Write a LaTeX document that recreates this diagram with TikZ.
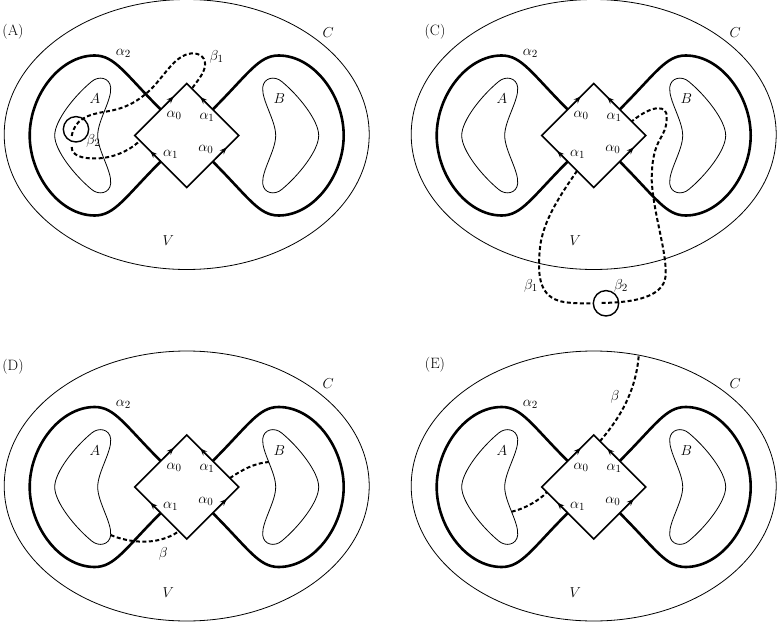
\documentclass[tikz,border=0pt]{standalone}
\usetikzlibrary{shapes.geometric,calc,arrows.meta}
\tikzset{
  every node/.style={font=\fontsize{15}{18}\selectfont, inner sep=0pt},
  ellipsenode/.style={draw, ellipse, minimum width=365pt, minimum height=270pt, inner sep=0pt, outer sep=0pt, line width=0.8pt},
  diam/.style={draw, diamond, minimum width=104pt, minimum height=104pt, inner sep=0pt, outer sep=0pt, line width=1.6pt},
  alphacurve/.style={line width=2.6pt},
  region/.style={line width=0.8pt},
  betacurve/.style={line width=2pt, dash pattern=on 4pt off 2.5pt},
  puncture/.style={draw, circle, minimum size=25.4pt, inner sep=0pt, outer sep=0pt, line width=1.4pt},
  edgearrow/.style={line width=1.2pt, -{Stealth[length=7pt,width=5.5pt]}}
}
\newcommand\regionpath{(-89,0) .. controls (-89,-15) and (-75,-35) .. (-76,-48) .. controls (-77,-58) and (-88,-60) .. (-95,-54) .. controls (-112,-40) and (-132,-15) .. (-132,0) .. controls (-132,15) and (-112,40) .. (-95,54) .. controls (-88,60) and (-77,58) .. (-76,48) .. controls (-75,35) and (-89,15) .. cycle}
\newcommand\panelbase[1]{%
  \node[ellipsenode] (#1-C) at (0,-1) {};
  \node[diam] (#1-d) at (0,0) {};
  \coordinate (#1-ul) at ($(#1-d.west)!.5!(#1-d.north)$);
  \coordinate (#1-ll) at ($(#1-d.west)!.5!(#1-d.south)$);
  \coordinate (#1-ur) at ($(#1-d.east)!.5!(#1-d.north)$);
  \coordinate (#1-lr) at ($(#1-d.east)!.5!(#1-d.south)$);
  \draw[alphacurve] (#1-ul) .. controls (-62,-62) and (-72,-80) .. (-92,-80) .. controls (-127,-80) and (-157,-40) .. (-157,0) .. controls (-157,40) and (-127,80) .. (-92,80) .. controls (-72,80) and (-62,62) .. (#1-ll);
  \draw[alphacurve] (#1-ur) .. controls (62,-62) and (72,-80) .. (92,-80) .. controls (127,-80) and (157,-40) .. (157,0) .. controls (157,40) and (127,80) .. (92,80) .. controls (72,80) and (62,62) .. (#1-lr);
  \draw[region] \regionpath;
  \begin{scope}[xscale=-1]
    \draw[region] \regionpath;
  \end{scope}
  \draw[edgearrow] ($(#1-d.west)!.55!(#1-d.north)$) -- ($(#1-d.west)!.75!(#1-d.north)$);
  \draw[edgearrow] ($(#1-d.east)!.55!(#1-d.north)$) -- ($(#1-d.east)!.74!(#1-d.north)$);
  \draw[edgearrow] ($(#1-d.south)!.5!(#1-d.west)$) -- ($(#1-d.south)!.7!(#1-d.west)$);
  \draw[edgearrow] ($(#1-d.south)!.56!(#1-d.east)$) -- ($(#1-d.south)!.77!(#1-d.east)$);
  \node (#1-a0u) at (-12.5,-20) {$\alpha_0$};
  \node (#1-a1u) at (20.3,-18.3) {$\alpha_1$};
  \node (#1-a1l) at (-16,19.2) {$\alpha_1$};
  \node (#1-a0l) at (19.2,14.2) {$\alpha_0$};
  \node (#1-A) at (-91.7,-36.5) {$A$};
  \node (#1-B) at (92.6,-36.5) {$B$};
  \node (#1-Cl) at (141.6,-103.2) {$C$};
  \node (#1-V) at (-18.4,105.2) {$V$};
  \node (#1-a2) at (-63.4,-82.2) {$\alpha_2$};
}
\begin{document}
\begin{tikzpicture}[x=1pt,y=-1pt]
\useasboundingbox (0,0) rectangle (777,623);
% ---------- (A)
\begin{scope}[shift={(186.7,135.5)}]
  \panelbase{A}
  \node[puncture] (A-p) at (-110.7,-6.2) {};
  \coordinate (A-s1) at (-115,0.5);
  \coordinate (A-e1) at ($(A-d.north)!.1!(A-d.east)$);
  \draw[betacurve] (A-s1) .. controls (-112,-16) and (-100,-21) .. (-80,-24) .. controls (-62,-27) and (-50,-33) .. (-36,-46) .. controls (-22,-60) and (-12,-80) .. (4,-82) .. controls (14,-83) and (20,-77) .. (18,-68) .. controls (16,-60) and (10,-54) .. (A-e1);
  \coordinate (A-s2) at (-115,11.5);
  \coordinate (A-e2) at ($(A-d.west)!.1!(A-d.south)$);
  \draw[betacurve] (A-s2) .. controls (-115,20) and (-105,23) .. (-92,23) .. controls (-75,23) and (-58,16) .. (A-e2);
  \node (A-b1) at (30,-78.8) {$\beta_1$};
  \node (A-b2) at (-93.4,5) {$\beta_2$};
\end{scope}
% ---------- (C)
\begin{scope}[shift={(593.7,135.5)}]
  \panelbase{C}
  \node[puncture] (C-p) at (12.3,167.8) {};
  \coordinate (C-s1) at ($(C-d.south)!.32!(C-d.west)$);
  \draw[betacurve] (C-s1) .. controls (-30,55) and (-52,85) .. (-54,115) .. controls (-56,140) and (-55,162) .. (-30,166.5) .. controls (-20,168) and (-10,168) .. (C-p.west);
  \coordinate (C-s2) at (8,167.5);
  \coordinate (C-e2) at ($(C-d.north)!.73!(C-d.east)$);
  \draw[betacurve] (C-s2) .. controls (30,167) and (70,165) .. (72,140) .. controls (73,115) and (60,80) .. (58,45) .. controls (58,0) and (73,5) .. (73,-18) .. controls (74,-30) and (60,-32) .. (C-e2);
  \node (C-b1) at (-62.7,150.5) {$\beta_1$};
  \node (C-b2) at (27.3,150.2) {$\beta_2$};
\end{scope}
% ---------- (D)
\begin{scope}[shift={(186.7,487)}]
  \panelbase{D}
  \coordinate (D-a) at (-76,48);
  \coordinate (D-e1) at ($(D-d.south)!.15!(D-d.west)$);
  \draw[betacurve] (D-a) .. controls (-60,55) and (-30,60) .. (D-e1);
  \coordinate (D-s2) at ($(D-d.north)!.83!(D-d.east)$);
  \coordinate (D-b) at (82,-25);
  \draw[betacurve] (D-s2) .. controls (55,-17) and (68,-24) .. (D-b);
  \node (D-bl) at (-23.4,67) {$\beta$};
\end{scope}
% ---------- (E)
\begin{scope}[shift={(593.7,487)}]
  \panelbase{E}
  \coordinate (E-s1) at ($(E-d.north)!.12!(E-d.east)$);
  \draw[betacurve] (E-s1) .. controls (20,-62) and (42,-90) .. (E-C.71);
  \coordinate (E-a) at (-82,24.7);
  \coordinate (E-e2) at ($(E-d.west)!.1!(E-d.south)$);
  \draw[betacurve] (E-a) .. controls (-70,22) and (-55,14) .. (E-e2);
  \node (E-bl) at (21.3,-90.3) {$\beta$};
\end{scope}
% panel labels
\node (labA) at (13,32) {(A)};
\node (labC) at (435,32) {(C)};
\node (labD) at (13,367) {(D)};
\node (labE) at (435,365) {(E)};
\end{tikzpicture}
\end{document}
